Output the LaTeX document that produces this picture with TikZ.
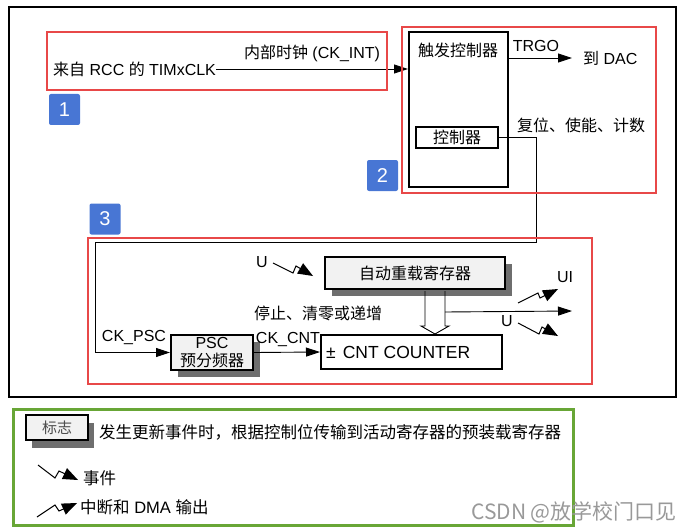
\documentclass[tikz,border=0pt]{standalone}
\usepackage{fontspec}
\setmainfont{Liberation Sans}
\newfontfamily\cjk{Noto Sans CJK SC}
\usetikzlibrary{arrows.meta,calc,shadows}
\definecolor{redbox}{RGB}{232,72,72}
\definecolor{bluelab}{RGB}{72,118,212}
\definecolor{greenbox}{RGB}{104,166,54}
\definecolor{shadowgray}{RGB}{110,110,110}
\definecolor{boxfill}{RGB}{242,242,242}
\newcommand\lightningarrow[4]{%
  \draw[line width=1pt, line join=miter] (#1) -- (#2) -- (#3) -- ($(#4)!10pt!(#3)$);
  \coordinate (hb) at ($(#4)!15pt!(#3)$);
  \fill (#4) -- ($(hb)!6pt!90:(#4)$) -- ($(hb)!6pt!-90:(#4)$) -- cycle;}
\begin{document}
\begin{tikzpicture}[x=1pt,y=-1pt,
  redframe/.style={draw=redbox, line width=2.5pt},
  numlab/.style={fill=bluelab, text=white, rounded corners=2pt, minimum width=31pt, minimum height=31pt, inner sep=0, font=\fontsize{20}{20}\selectfont},
  txt/.style={inner sep=0, font=\fontsize{16}{16}\selectfont},
  legtxt/.style={inner sep=0, font=\fontsize{16.5}{16.5}\selectfont},
  blk/.style={draw=black, line width=2pt, inner sep=0},
  shbox/.style={blk, fill=boxfill, drop shadow={shadow xshift=7pt, shadow yshift=-7pt, fill=shadowgray, opacity=1}},
  arr/.style={-{Triangle[length=14pt,width=9pt]}, line width=0.9pt},
]
\useasboundingbox (0,0) rectangle (685,532);

% outer frame
\draw[line width=2.5pt] (9,7) rectangle (676,397);

% section 1
\node[txt, anchor=west] (clk) at (53,69) {{\cjk 来自} RCC {\cjk 的} TIMxCLK};
\node[txt] (ckint) at (312,53) {{\cjk 内部时钟} (CK\_INT)};

% section 2
\node[blk, minimum width=99pt, minimum height=155pt] (trig) at (458.5,109.5) {};
\node[txt] (trigt) at (458,50) {\cjk 触发控制器};
\node[blk, line width=1.8pt, minimum width=82pt, minimum height=21pt, font=\fontsize{16}{16}\selectfont] (ctrl) at (457,137.5) {\cjk 控制器};
\node[txt, anchor=west] (dac) at (583,58) {{\cjk 到} DAC};
\node[txt] (trgo) at (536,46) {TRGO};
\node[txt] (rst) at (581,125) {\cjk 复位、使能、计数};
\draw[arr] (clk.east) -- (clk.east -| trig.west);
\draw[arr, shorten >=11pt] (trig.east |- dac.west) -- (dac.west);

% section 3
\node[shbox, minimum width=82pt, minimum height=35pt] (psc) at (212,352.5) {};
\node[txt, anchor=base] (psct) at (212,348.5) {PSC};
\node[txt, anchor=base] (pscc) at (212,366) {\cjk 预分频器};
\node[blk, minimum width=181pt, minimum height=34pt] (cnt) at (411.5,352) {};
\node[txt, anchor=west, font=\fontsize{17.5}{17.5}\selectfont] (cntt) at ($(cnt.west)+(6,0)$) {±\hspace{7pt}CNT COUNTER};
\node[shbox, minimum width=180pt, minimum height=32pt, font=\fontsize{16}{16}\selectfont] (reload) at (415,273) {\cjk 自动重载寄存器};

\coordinate (c1) at (536,242);
\coordinate (c2) at (95,352.5);
\draw[arr] (ctrl.east) -| (c1) -| (c2) -- (psc.west);
\node[txt] (ckpsc) at (134,338) {CK\_PSC};
\draw[arr] (psc.east) -- (cnt.west);
\node[txt] (ckcnt) at (288,340) {CK\_CNT};

\coordinate (hs) at ($(reload.south)+(20,0)$);
\coordinate (ht) at (hs |- cnt.north);
\draw[line width=0.9pt, line join=miter] ($(hs)+(-10,1)$) -- ($(ht)+(-10,-8)$) -- ($(ht)+(-14,-8)$) -- (ht) -- ($(ht)+(14,-8)$) -- ($(ht)+(10,-8)$) -- ($(hs)+(10,1)$);
\coordinate (uout) at (572,311);
\draw[arr] ($(hs)+(10,22)$) -- (uout);

\node[txt] (stop) at (318,313) {\cjk 停止、清零或递增};
\node[txt] (u1) at (262,262) {U};
\node[txt] (ui) at (565,277) {UI};
\node[txt] (u2) at (507,321) {U};

\lightningarrow{273,263}{293,273}{296,266}{313,276}
\lightningarrow{518,323}{539,334}{542,327}{558,336}
\lightningarrow{518,303}{538,293}{540,298}{558,289}

% red frames and numbers
\draw[redframe] (47,32) rectangle (387,90);
\draw[redframe] (402,27) rectangle (656,193);
\draw[redframe] (88,238) rectangle (592,384);
\node[numlab] (n1) at (64.5,109.5) {1};
\node[numlab] (n2) at (382.5,175.5) {2};
\node[numlab] (n3) at (105,219) {3};

% legend
\draw[draw=greenbox, line width=3pt] (13,409) rectangle (573,525);
\node[blk, line width=2pt, fill=boxfill, drop shadow={shadow xshift=6pt, shadow yshift=-8pt, fill=shadowgray, opacity=1}, minimum width=62pt, minimum height=25pt, text=black!70, font=\fontsize{15}{15}\selectfont] (flag) at (57,427.5) {\cjk 标志};
\node[legtxt, anchor=west] (flagt) at (99,432) {\cjk 发生更新事件时，根据控制位传输到活动寄存器的预装载寄存器};
\lightningarrow{38,465}{55,478}{59,471}{78,480}
\node[legtxt, anchor=west] (evt) at (83,478) {\cjk 事件};
\lightningarrow{37,517}{55,505}{59,511}{77,503}
\node[legtxt, anchor=west] (irq) at (80,507) {{\cjk 中断和} DMA {\cjk 输出}};
\node[inner sep=0, font=\fontsize{21}{21}\selectfont, text=black!40] (wm) at (574,512) {\cjk CSDN @放学校门口见};
\end{tikzpicture}
\end{document}
